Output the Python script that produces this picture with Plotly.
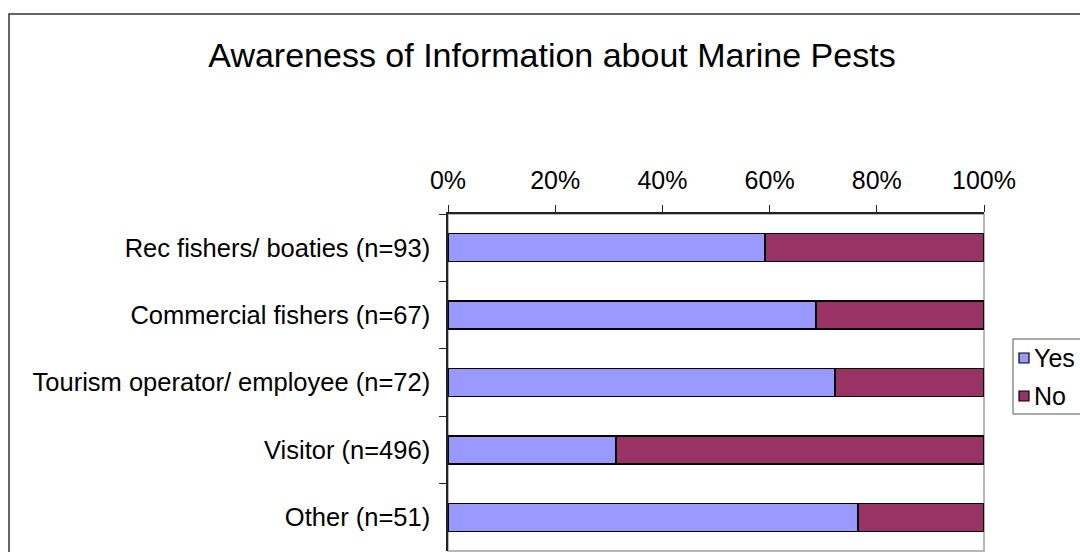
import plotly.graph_objects as go

# Survey groups and share of respondents aware of marine pest information
categories = [
    "Rec fishers/ boaties (n=93)",
    "Commercial fishers (n=67)",
    "Tourism operator/ employee (n=72)",
    "Visitor (n=496)",
    "Other (n=51)",
]
yes_pct = [59.1, 68.7, 72.2, 31.3, 76.5]
no_pct = [40.9, 31.3, 27.8, 68.7, 23.5]
x_ticks = [0, 20, 40, 60, 80, 100]
x_tick_labels = ["0%", "20%", "40%", "60%", "80%", "100%"]

YES_COLOR = "#9999FF"
NO_COLOR = "#993366"
FONT = "Arial, Liberation Sans, sans-serif"

W, H = 1080, 552
# plot-area edges in pixels
L, R, T, B = 448, 984, 214, 551


def px_x(px):
    return (px - L) / (R - L)


def px_y(py):
    return (B - py) / (B - T)


fig = go.Figure()
fig.add_trace(go.Bar(
    y=categories, x=yes_pct, name="Yes", orientation="h",
    marker=dict(color=YES_COLOR, line=dict(color="black", width=1.5)),
    showlegend=False,
))
fig.add_trace(go.Bar(
    y=categories, x=no_pct, name="No", orientation="h",
    marker=dict(color=NO_COLOR, line=dict(color="black", width=1.5)),
    showlegend=False,
))

shapes = [
    # outer chart frame
    dict(type="rect", xref="paper", yref="paper",
         x0=px_x(9), x1=px_x(1200), y0=px_y(700), y1=px_y(14),
         line=dict(color="#333333", width=1.5), layer="below"),
    # plot-area border
    dict(type="rect", xref="paper", yref="paper",
         x0=0, x1=1, y0=0, y1=1,
         line=dict(color="#A0A0A0", width=1.5), layer="below"),
    # legend box
    dict(type="rect", xref="paper", yref="paper",
         x0=px_x(1013), x1=px_x(1200), y0=px_y(414), y1=px_y(339),
         line=dict(color="#555555", width=1), layer="above"),
]

annotations = []
for label, color, cy in (("Yes", YES_COLOR, 358), ("No", NO_COLOR, 396)):
    shapes.append(dict(type="rect", xref="paper", yref="paper",
                       x0=px_x(1019), x1=px_x(1029),
                       y0=px_y(cy + 5), y1=px_y(cy - 5),
                       fillcolor=color, line=dict(color="black", width=1.2)))
    annotations.append(dict(text=label, xref="paper", yref="paper",
                            x=px_x(1032), y=px_y(cy), xanchor="left",
                            yanchor="middle", showarrow=False,
                            font=dict(family=FONT, size=25, color="black")))

fig.update_layout(
    width=W, height=H,
    barmode="stack",
    bargap=0.585,
    paper_bgcolor="white",
    plot_bgcolor="white",
    margin=dict(l=L, r=W - R, t=T, b=H - B, autoexpand=False),
    font=dict(family=FONT, color="black"),
    title=dict(text="Awareness of Information about Marine Pests",
               xref="container", yref="container",
               x=552 / W, y=1 - 55 / H, xanchor="center", yanchor="middle",
               font=dict(family=FONT, size=34, color="black")),
    xaxis=dict(
        side="top", range=[0, 100], tickvals=x_ticks, ticktext=x_tick_labels,
        ticks="outside", ticklen=7, tickcolor="#222222", tickwidth=1,
        showline=True, linecolor="#222222", linewidth=1.5,
        showgrid=False, zeroline=False, ticklabelstandoff=6,
        tickfont=dict(family=FONT, size=25, color="black"),
    ),
    yaxis=dict(
        type="category", categoryorder="array", categoryarray=categories,
        range=[4.5, -0.5], tickson="boundaries",
        ticks="outside", ticklen=7, tickcolor="#222222", tickwidth=1,
        showline=True, linecolor="#222222", linewidth=1.5,
        showgrid=False, zeroline=False, ticklabelstandoff=11,
        tickfont=dict(family=FONT, size=25.5, color="black"),
    ),
    shapes=shapes,
    annotations=annotations,
)

fig.write_html("out.html")
